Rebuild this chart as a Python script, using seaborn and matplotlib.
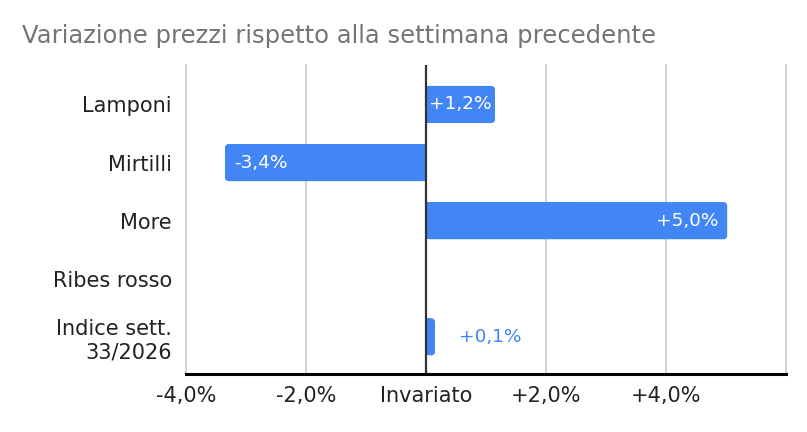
import matplotlib
matplotlib.use("Agg")
import matplotlib.pyplot as plt
import seaborn as sns
import pandas as pd
from matplotlib.patches import FancyBboxPatch

# ---- data ----
categories = ["Lamponi", "Mirtilli", "More", "Ribes rosso", "Indice sett.\n33/2026"]
values = [1.15, -3.35, 5.02, 0.0, 0.15]
bar_labels = ["+1,2%", "-3,4%", "+5,0%", "", "+0,1%"]
xticks = [-4, -2, 0, 2, 4, 6]
xtick_labels = ["-4,0%", "-2,0%", "Invariato", "+2,0%", "+4,0%", ""]
title = "Variazione prezzi rispetto alla settimana precedente"

BLUE = "#4285F4"
W, H, DPI = 807, 432, 100

sns.set_theme(style="white")
plt.rcParams['font.family'] = ['DejaVu Sans']

fig = plt.figure(figsize=(W / DPI, H / DPI), dpi=DPI)
ax_left, ax_right, ax_top, ax_bottom = 186, 786, 65, 374
ax = fig.add_axes([ax_left / W, 1 - ax_bottom / H, (ax_right - ax_left) / W, (ax_bottom - ax_top) / H])

df = pd.DataFrame({"cat": categories, "val": values})
sns.barplot(data=df, x="val", y="cat", orient="h", color=BLUE, saturation=1,
            width=0.64, ax=ax, zorder=2)

xmin, xmax = -4, 6
ylo, yhi = 4.64, -0.68
ax.set_xlim(xmin, xmax)
ax.set_ylim(ylo, yhi)

px_x = (ax_right - ax_left) / (xmax - xmin)
px_y = (ax_bottom - ax_top) / abs(ylo - yhi)
radius_px = 4
rx = radius_px / px_x
ry = radius_px / px_y

# rounded outer ends
for p in list(ax.patches):
    x0, y0, w, h = p.get_x(), p.get_y(), p.get_width(), p.get_height()
    if abs(w) < 1e-9:
        continue
    left = min(x0, x0 + w)
    fb = FancyBboxPatch((left, y0), abs(w), h,
                        boxstyle=f"round,pad=0,rounding_size={rx}",
                        mutation_aspect=ry / rx,
                        facecolor=BLUE, edgecolor="none", zorder=2)
    ax.add_patch(fb)
    p.set_width(w / 2)
    p.set_edgecolor("none")

# gridlines
for xv in xticks:
    if xv == 0:
        continue
    ax.axvline(xv, color="#cccccc", lw=1.3, zorder=0, clip_on=False)
ax.axvline(0, color="#333333", lw=1.6, zorder=5)

# spines
for s in ["top", "right", "left"]:
    ax.spines[s].set_visible(False)
ax.spines["bottom"].set_color("#000000")
ax.spines["bottom"].set_linewidth(2.2)
ax.spines["bottom"].set_zorder(6)

ax.set_xticks(xticks)
ax.set_xticklabels(xtick_labels)
ax.tick_params(axis="x", length=0, pad=9, labelsize=15, labelcolor="#222222")
ax.tick_params(axis="y", length=0, pad=10, labelsize=15, labelcolor="#222222")
ax.set_xlabel("")
ax.set_ylabel("")

# bar labels
pt = 72 / DPI
for i, (v, lab) in enumerate(zip(values, bar_labels)):
    if not lab:
        continue
    sign = 1 if v >= 0 else -1
    if abs(v) >= 2:
        ax.annotate(lab, (v, i), xytext=(-sign * 9 * pt, 0), textcoords="offset points",
                    ha="right" if sign > 0 else "left", va="center",
                    color="white", fontsize=13.3, zorder=6)
    elif abs(v) >= 1:
        ax.annotate(lab, (v / 2, i), ha="center", va="center",
                    color="white", fontsize=13.3, zorder=6)
    else:
        ax.annotate(lab, (v, i), xytext=(sign * 24 * pt, 0), textcoords="offset points",
                    ha="left" if sign > 0 else "right", va="center",
                    color=BLUE, fontsize=13.3, zorder=6)

fig.text(22 / W, 1 - 36 / H, title, color="#757575", fontsize=17.5, ha="left", va="center")

fig.savefig("out.png", dpi=DPI, facecolor="white")
